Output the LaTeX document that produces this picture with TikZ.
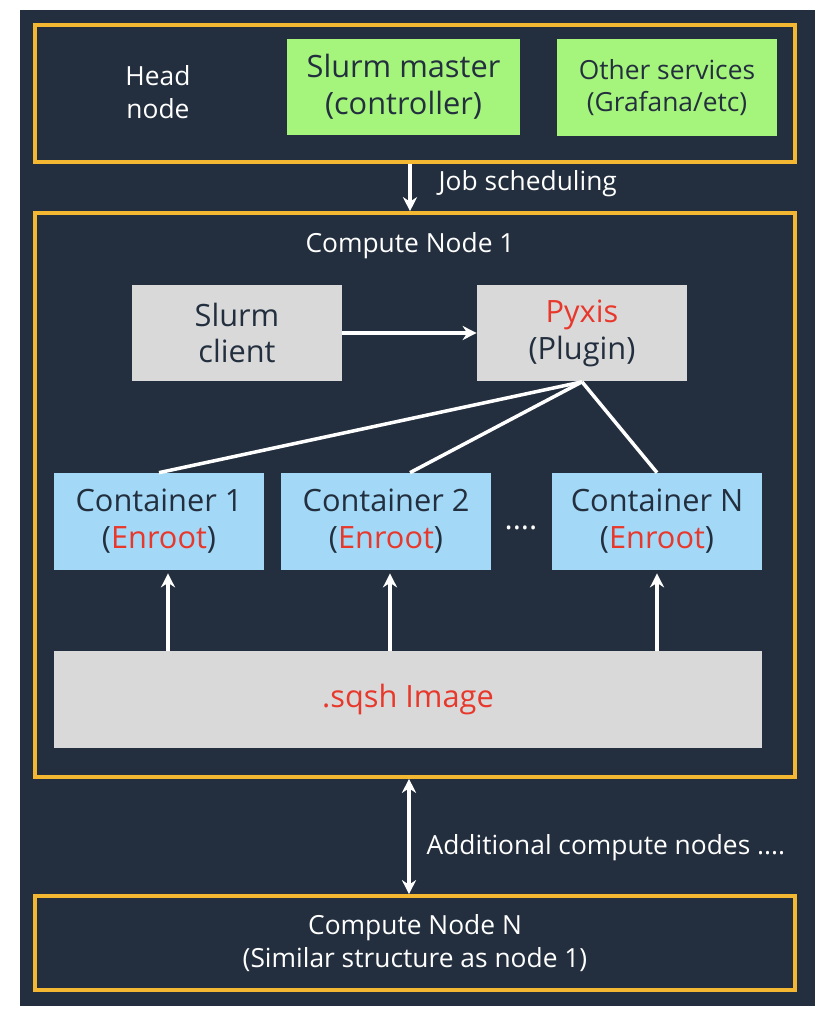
\documentclass[tikz,border=0pt]{standalone}
\usepackage{fontspec}
\setmainfont{Open Sans}
\usetikzlibrary{arrows.meta,positioning,calc}
\definecolor{awsbg}{HTML}{232F3E}
\definecolor{awsgold}{HTML}{F4B732}
\definecolor{mastergreen}{HTML}{A5F47B}
\definecolor{plugingray}{HTML}{D9D9D9}
\definecolor{ctrblue}{HTML}{A3D9F7}
\definecolor{hlred}{HTML}{E8372B}

\tikzset{
  frame/.style={draw=awsgold, line width=2.1pt, minimum width=15.2cm, inner sep=0pt},
  box/.style={minimum width=4.2cm, minimum height=1.94cm, inner sep=0pt, align=center,
    text=awsbg, font=\fontsize{17.5}{21}\selectfont},
  lbl/.style={text=white, align=center, font=\fontsize{15}{18.5}\selectfont},
  wire/.style={white, line width=2pt},
  arr/.style={wire, -{Stealth[length=8pt,width=8pt]}},
}

\begin{document}
\begin{tikzpicture}[x=0.02cm, y=-0.02cm]
  \fill[white] (0,0) rectangle (835,1024);
  \useasboundingbox (0,0) rectangle (835,1024);
  \fill[awsbg] (20,10) rectangle (815,1006);

  % Head node
  \node[frame, minimum height=2.74cm] (head) at (415,93.5) {};
  \node[lbl] (headlbl) at (158,92) {Head\\node};
  \node[box, fill=mastergreen, minimum width=4.66cm, minimum height=1.92cm] (master) at (403.5,87) {Slurm master\\(controller)};
  \node[box, fill=mastergreen, minimum width=4.4cm, minimum height=1.94cm,
    font=\fontsize{15}{18.5}\selectfont] (other) at (667,87.5) {Other services\\(Grafana/etc)};

  % Compute node 1
  \node[frame, minimum height=11.28cm] (cn1) at (415,495) {};
  \node[lbl] (cn1lbl) at (410,246) {Compute Node 1};
  \node[box, fill=plugingray] (client) at (237,333) {Slurm\\client};
  \node[box, fill=plugingray] (pyxis) at (582,333) {\textcolor{hlred}{Pyxis}\\(Plugin)};

  % Containers
  \node[box, fill=ctrblue] (c1) at (159,521.5) {Container 1\\(\textcolor{hlred}{Enroot})};
  \node[box, fill=ctrblue] (c2) at (386,521.5) {Container 2\\(\textcolor{hlred}{Enroot})};
  \node[box, fill=ctrblue] (cN) at (657,521.5) {Container N\\(\textcolor{hlred}{Enroot})};
  \node[lbl, font=\fontsize{17.5}{21}\selectfont] (dots) at (521,528) {....};
  \node[box, fill=plugingray, minimum width=14.16cm] (sqsh) at (408,699.5) {\textcolor{hlred}{.sqsh Image}};

  % Compute node N
  \node[frame, lbl, minimum height=1.88cm] (cnN) at (415,943) {Compute Node N\\(Similar structure as node 1)};

  % Connectors
  \draw[arr] ([xshift=-0.1cm]head.south) -- ([xshift=-0.1cm]cn1.north)
    node[lbl, midway, right=0.42cm, yshift=0.08cm] (jobs) {Job scheduling};
  \draw[arr] (client) -- (pyxis);
  \draw[wire] (pyxis.south) -- (c1.north);
  \draw[wire] (pyxis.south) -- ([xshift=0.48cm]c2.north);
  \draw[wire] (pyxis.south) -- (cN.north);
  \foreach \c/\dx in {c1/9, c2/4, cN/0}
    \draw[arr] ($(sqsh.north -| \c.south)+(\dx,0)$) -- ($(\c.south)+(\dx,3)$);
  \draw[wire, {Stealth[length=8pt,width=8pt]}-{Stealth[length=8pt,width=8pt]}]
    ([xshift=-0.12cm]cn1.south) -- ([xshift=-0.12cm]cnN.north)
    node[lbl, midway, right=0.2cm, yshift=-0.22cm] (more) {Additional compute nodes ....};
\end{tikzpicture}
\end{document}
